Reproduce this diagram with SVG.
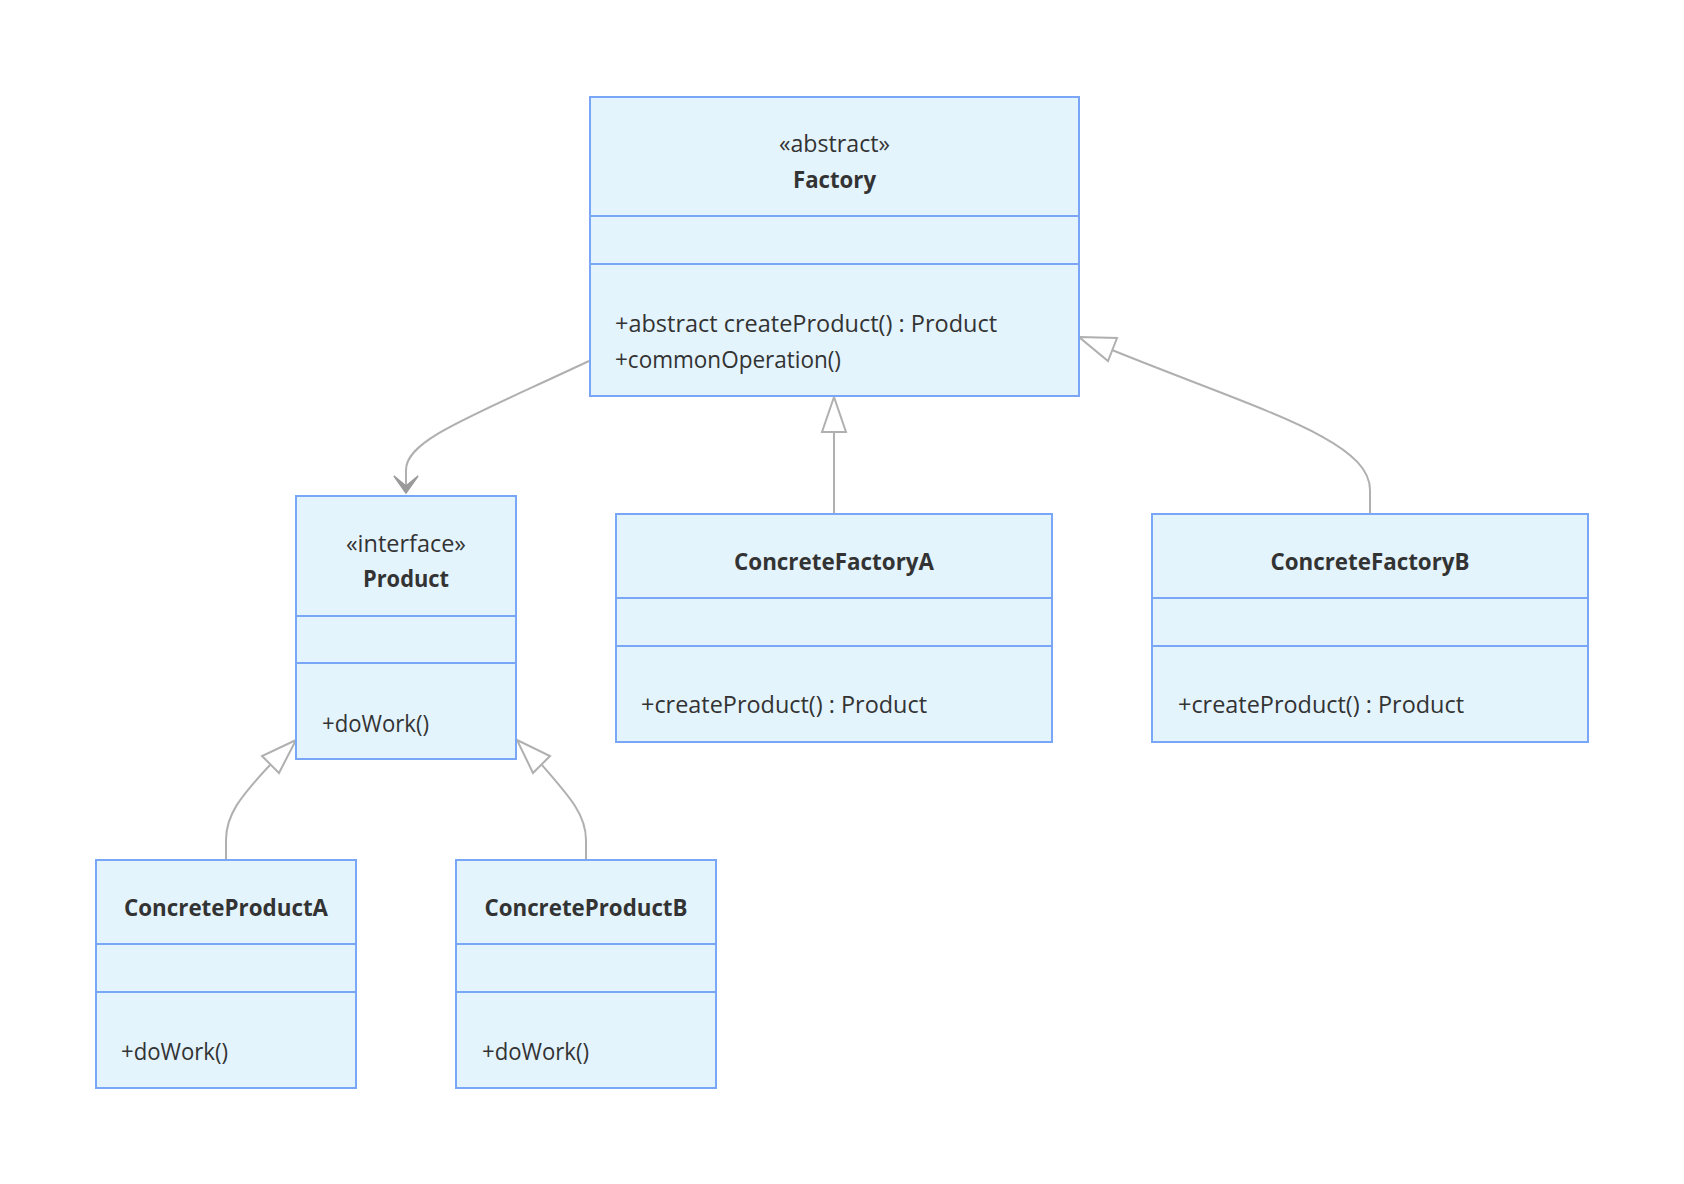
<svg xmlns="http://www.w3.org/2000/svg" width="1684" height="1184" viewBox="0 0 1684 1184">
<style>
.box{fill:#e4f4fd;stroke:#7aa6f8;stroke-width:2}
.div{stroke:#7aa6f8;stroke-width:2}
.t{font-family:"Open Sans","Noto Sans",sans-serif;font-size:24px;fill:#333}
.b{font-weight:bold}
.m{text-anchor:middle}
.edge{fill:none;stroke:#b0b0b0;stroke-width:2}
.tri{fill:#ffffff;stroke:#b0b0b0;stroke-width:2}
.dep{fill:#9a9a9a;stroke:#9a9a9a;stroke-width:1.5}
</style>
<rect width="1684" height="1184" fill="#ffffff"/>
<g id="connectors">
<path class="edge" d="M589,361 C470,417 406,440 406,470 L406,486"/>
<path class="dep" d="M406,493 L394,476 L406,486 L418,476 Z"/>
<path class="edge" d="M834,514 L834,432"/>
<path class="tri" d="M834,397 L846,432 L822,432 Z"/>
<path class="edge" d="M1370,514 L1370,490 C1370,440 1260,410 1112,350"/>
<path class="tri" d="M1079,337 L1117,338 L1108,361 Z"/>
<path class="edge" d="M226,859 L226,840 C226,815 240,797 270,765"/>
<path class="tri" d="M296,740 L279,773 L262,756 Z"/>
<path class="edge" d="M586,860 L586,840 C586,815 570,797 542,765"/>
<path class="tri" d="M517,740 L550,756 L533,773 Z"/>
</g>
<g id="Factory">
<rect class="box" x="590" y="97" width="489" height="299"/>
<line class="div" x1="590" y1="216" x2="1079" y2="216"/>
<line class="div" x1="590" y1="264" x2="1079" y2="264"/>
<text class="t m" x="834.5" y="152" textLength="111" lengthAdjust="spacingAndGlyphs">«abstract»</text>
<text class="t m b" x="834.5" y="188" textLength="83" lengthAdjust="spacingAndGlyphs">Factory</text>
<text class="t" x="615" y="332" textLength="382" lengthAdjust="spacingAndGlyphs">+abstract createProduct() : Product</text>
<text class="t" x="615" y="368" textLength="226" lengthAdjust="spacingAndGlyphs">+commonOperation()</text>
</g>
<g id="Product">
<rect class="box" x="296" y="496" width="220" height="263"/>
<line class="div" x1="296" y1="616" x2="516" y2="616"/>
<line class="div" x1="296" y1="663" x2="516" y2="663"/>
<text class="t m" x="406" y="552" textLength="120" lengthAdjust="spacingAndGlyphs">«interface»</text>
<text class="t m b" x="406" y="587" textLength="86" lengthAdjust="spacingAndGlyphs">Product</text>
<text class="t" x="322" y="732" textLength="107" lengthAdjust="spacingAndGlyphs">+doWork()</text>
</g>
<g id="ConcreteFactoryA">
<rect class="box" x="616" y="514" width="436" height="228"/>
<line class="div" x1="616" y1="598" x2="1052" y2="598"/>
<line class="div" x1="616" y1="646" x2="1052" y2="646"/>
<text class="t m b" x="834" y="570" textLength="200" lengthAdjust="spacingAndGlyphs">ConcreteFactoryA</text>
<text class="t" x="641" y="713" textLength="286" lengthAdjust="spacingAndGlyphs">+createProduct() : Product</text>
</g>
<g id="ConcreteFactoryB">
<rect class="box" x="1152" y="514" width="436" height="228"/>
<line class="div" x1="1152" y1="598" x2="1588" y2="598"/>
<line class="div" x1="1152" y1="646" x2="1588" y2="646"/>
<text class="t m b" x="1370" y="570" textLength="199" lengthAdjust="spacingAndGlyphs">ConcreteFactoryB</text>
<text class="t" x="1178" y="713" textLength="286" lengthAdjust="spacingAndGlyphs">+createProduct() : Product</text>
</g>
<g id="ConcreteProductA">
<rect class="box" x="96" y="860" width="260" height="228"/>
<line class="div" x1="96" y1="944" x2="356" y2="944"/>
<line class="div" x1="96" y1="992" x2="356" y2="992"/>
<text class="t m b" x="226" y="916" textLength="204" lengthAdjust="spacingAndGlyphs">ConcreteProductA</text>
<text class="t" x="121" y="1060" textLength="107" lengthAdjust="spacingAndGlyphs">+doWork()</text>
</g>
<g id="ConcreteProductB">
<rect class="box" x="456" y="860" width="260" height="228"/>
<line class="div" x1="456" y1="944" x2="716" y2="944"/>
<line class="div" x1="456" y1="992" x2="716" y2="992"/>
<text class="t m b" x="586" y="916" textLength="203" lengthAdjust="spacingAndGlyphs">ConcreteProductB</text>
<text class="t" x="482" y="1060" textLength="107" lengthAdjust="spacingAndGlyphs">+doWork()</text>
</g>
</svg>
